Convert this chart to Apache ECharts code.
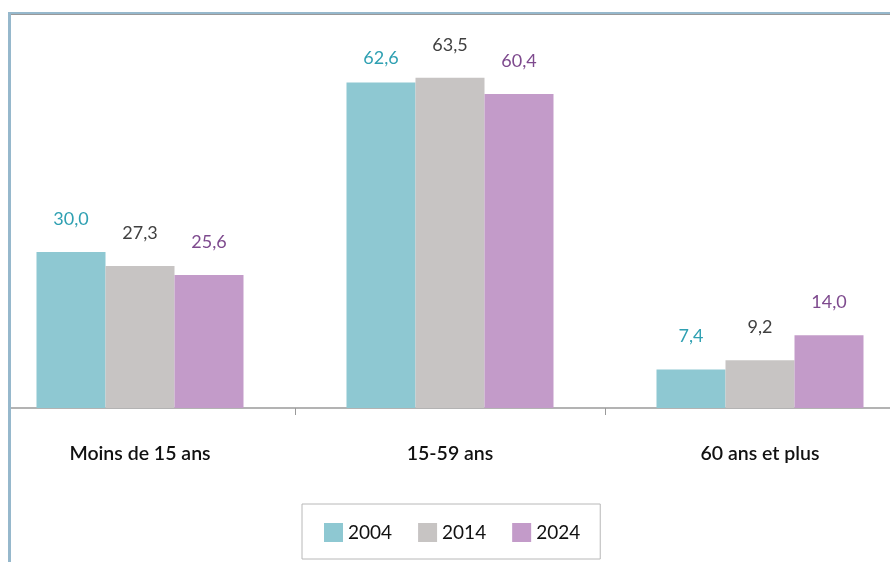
<!DOCTYPE html>
<html>
<head>
<meta charset="utf-8">
<script src="https://cdn.jsdelivr.net/npm/echarts@6/dist/echarts.min.js"></script>
<style>
  html, body { margin: 0; padding: 0; background: #fff; }
  #chart { width: 890px; height: 562px; }
</style>
</head>
<body>
<div id="chart"></div>
<script>
// categories and values
const categories = ['Moins de 15 ans', '15-59 ans', '60 ans et plus'];
const years = ['2004', '2014', '2024'];
const values2004 = [30.0, 62.6, 7.4];
const values2014 = [27.3, 63.5, 9.2];
const values2024 = [25.6, 60.4, 14.0];

const barColors = ['#8EC8D2', '#C7C4C3', '#C39BC9'];
const labelColors = ['#2FA0B2', '#404040', '#7E4A8E'];
const font = 'Lato, "Open Sans", sans-serif';

const chart = echarts.init(document.getElementById('chart'));

const fmt = v => v.toFixed(1).replace('.', ',');

const makeSeries = (name, values, i) => ({
    name,
    type: 'bar',
    barWidth: 69,
    barGap: '0%',
    itemStyle: { color: barColors[i] },
    label: {
        show: true,
        position: 'top',
        distance: 24,
        color: labelColors[i],
        fontFamily: font,
        fontSize: 18,
        formatter: p => fmt(p.value)
    },
    // the 62,6 label sits lower in the original
    data: values.map((v, j) => (i === 0 && j === 1) ? { value: v, label: { distance: 15 } } : v)
});

const option = {
    animation: false,
    grid: { left: -15, right: -25, top: 44, bottom: 154, outerBoundsMode: 'none' },
    xAxis: {
        type: 'category',
        data: categories,
        axisLine: { lineStyle: { color: '#9a9a9a', width: 1.5 } },
        axisTick: { show: true, length: 7, lineStyle: { color: '#9a9a9a' } },
        axisLabel: { color: '#111', fontFamily: font, fontSize: 19.5, fontWeight: 600, margin: 36 }
    },
    yAxis: {
        type: 'value',
        min: 0,
        max: 70,
        show: false,
        splitLine: { show: false }
    },
    legend: {
        data: years,
        left: 302,
        top: 504,
        icon: 'rect',
        padding: [19, 20, 17, 22],
        borderColor: '#b8b8b8',
        borderWidth: 1,
        itemWidth: 19,
        itemHeight: 19,
        itemGap: 26,
        textStyle: { fontFamily: font, fontSize: 19, color: '#111' }
    },
    graphic: [
        { type: 'rect', shape: { x: 0, y: 0, width: 8, height: 562 }, style: { fill: '#fff' }, z: 100 },
        { type: 'rect', shape: { x: 8, y: 12, width: 882, height: 2 }, style: { fill: '#96B8CC' }, z: 101 },
        { type: 'rect', shape: { x: 11, y: 14, width: 879, height: 1 }, style: { fill: '#999' }, z: 101 },
        { type: 'rect', shape: { x: 8, y: 12, width: 3, height: 550 }, style: { fill: '#96B8CC' }, z: 101 }
    ],
    series: [
        makeSeries(years[0], values2004, 0),
        makeSeries(years[1], values2014, 1),
        makeSeries(years[2], values2024, 2)
    ]
};

chart.setOption(option);
window.addEventListener('resize', () => chart.resize());
</script>
</body>
</html>
